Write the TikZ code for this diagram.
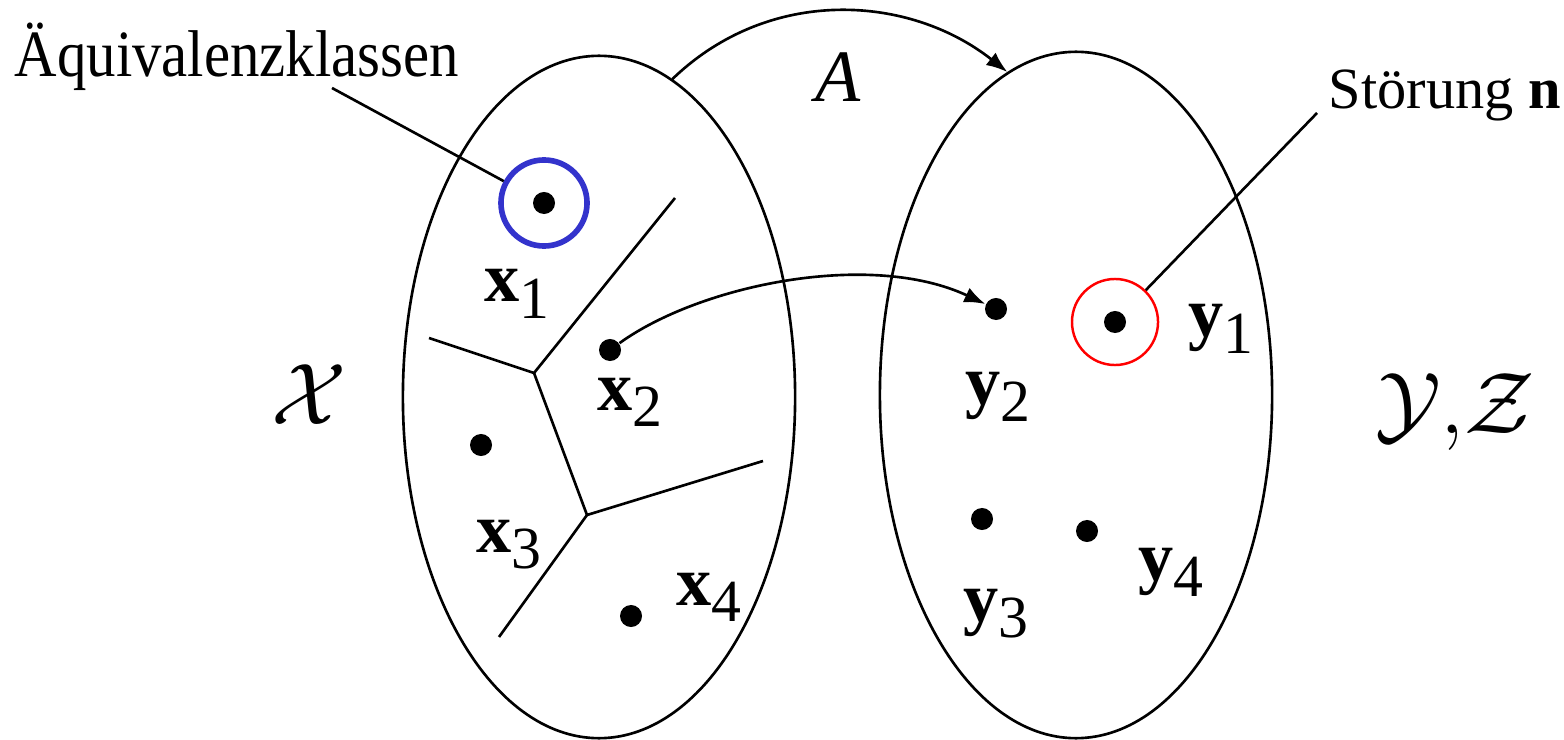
\documentclass[tikz,border=0pt]{standalone}
\usepackage{fontspec}
\setmainfont{Liberation Serif}
\usetikzlibrary{shapes.geometric,arrows.meta}
\definecolor{ringblue}{RGB}{51,51,204}
\newcommand{\vecsub}[2]{\textbf{#1}\raisebox{-4.8pt}{\fontsize{17}{17}\selectfont #2}}
\tikzset{
  setshape/.style={ellipse,draw,line width=0.75pt,minimum width=3.92cm,minimum height=6.82cm,inner sep=0pt},
  pt/.style={circle,fill,inner sep=0pt,minimum size=0.22cm},
  ring/.style={circle,inner sep=0pt,minimum size=0.86cm},
  lbl/.style={anchor=base west,inner sep=0pt,font=\fontsize{20}{20}\selectfont},
  conn/.style={line width=0.75pt},
  arr/.style={line width=0.75pt,-{Latex[length=6pt,width=4.5pt]}}
}
\begin{document}
\begin{tikzpicture}[x=0.01cm,y=-0.01cm]
\useasboundingbox (0,0) rectangle (1564,740);
% sets
\node[setshape] (X) at (599,397) {};
\node[setshape,minimum height=6.86cm] (Y) at (1076,395) {};
% points
\node[pt] (x1) at (544,203) {};
\node[pt] (x2) at (610,350) {};
\node[pt] (x3) at (481,445) {};
\node[pt] (x4) at (631,616) {};
\node[pt] (y1) at (1115,322) {};
\node[pt] (y2) at (996,309) {};
\node[pt] (y3) at (982,519) {};
\node[pt] (y4) at (1087,531) {};
% rings
\node[ring,draw=ringblue,line width=1.6pt] (r1) at (x1) {};
\node[ring,draw=red,line width=0.7pt] (r2) at (y1) {};
% point labels
\node[lbl] (lx1) at (484,302) {\vecsub{x}{1}};
\node[lbl] (lx2) at (597,410) {\vecsub{x}{2}};
\node[lbl] (lx3) at (476,552) {\vecsub{x}{3}};
\node[lbl] (lx4) at (676,605) {\vecsub{x}{4}};
\node[lbl] (ly1) at (1188,337) {\vecsub{y}{1}};
\node[lbl] (ly2) at (965,405) {\vecsub{y}{2}};
\node[lbl] (ly3) at (963,621) {\vecsub{y}{3}};
\node[lbl] (ly4) at (1138,580) {\vecsub{y}{4}};
% set labels
\node[font=\fontsize{24}{24}\selectfont] (calX) at (309,395) {$\mathcal{X}$};
\node[font=\fontsize{24}{24}\selectfont] (calYZ) at (1455,412) {$\mathcal{Y}{,}\mathcal{Z}$};
\node[anchor=base,inner sep=0pt,font=\fontsize{21}{21}\selectfont\itshape] (A) at (838,102) {A};
% annotations
\node[anchor=base west,inner sep=0pt,font=\fontsize{18.8}{18.8}\selectfont] (aq) at (14,77) {\scalebox{0.89}[1]{Äquivalenzklassen}};
\node[anchor=base west,inner sep=0pt,font=\fontsize{16.6}{16.6}\selectfont] (st) at (1328,109) {Störung \textbf{n}};
\coordinate (aqend) at (332,88);
\coordinate (stend) at (1317,113);
\draw[conn] (aqend) -- (r1);
\draw[conn] (stend) -- (r2);
% Voronoi partition
\coordinate (v1) at (534,373);
\coordinate (v2) at (587,515);
\coordinate (e1) at (675,198);
\coordinate (e2) at (429,338);
\coordinate (e3) at (763,461);
\coordinate (e4) at (499,637);
\draw[conn] (e1) -- (v1) -- (e2);
\draw[conn] (v1) -- (v2) -- (e3);
\draw[conn] (v2) -- (e4);
% mappings
\draw[arr] (X.77) .. controls (770,-15) and (910,-5) .. (Y.102);
\draw[arr] (x2) .. controls (700,285) and (870,250) .. (y2);
\end{tikzpicture}
\end{document}
